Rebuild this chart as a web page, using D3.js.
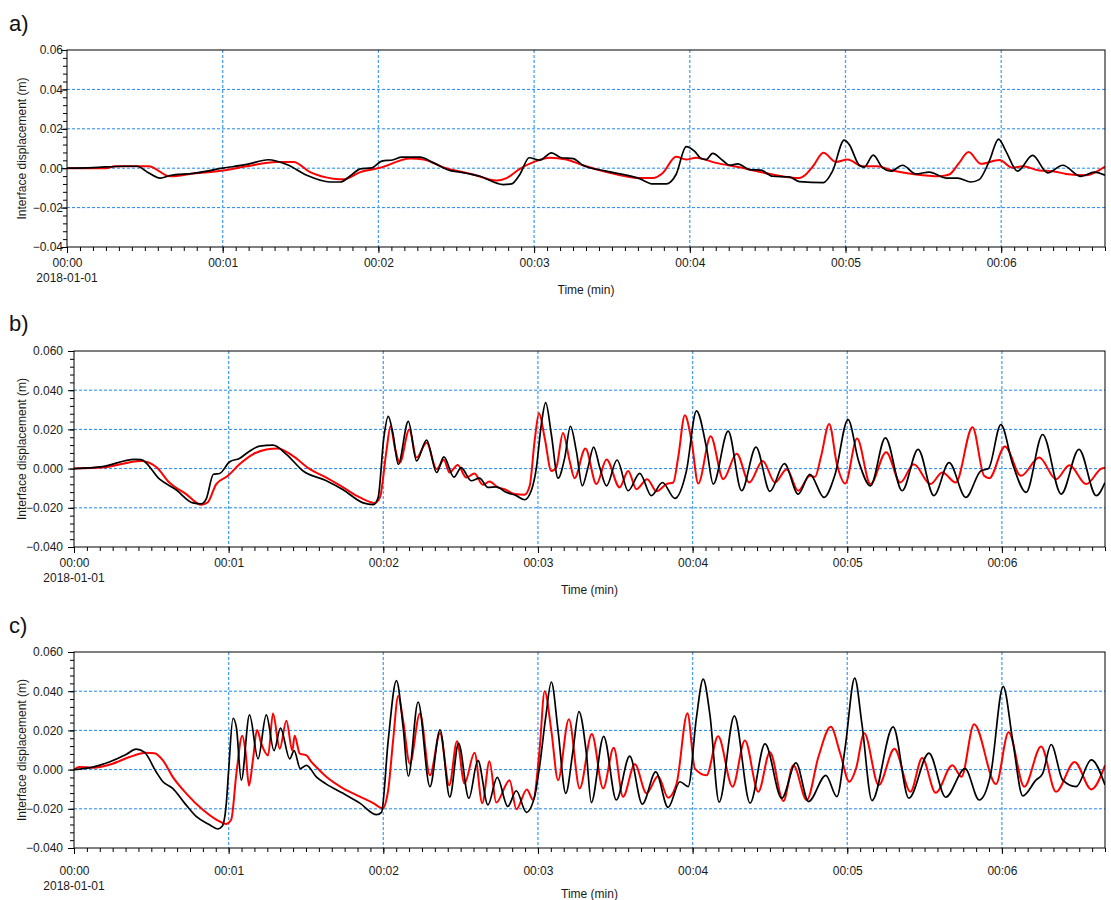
<!DOCTYPE html>
<html>
<head>
<meta charset="utf-8">
<script src="https://cdn.jsdelivr.net/npm/d3@7"></script>
<style>
  body { margin: 0; background: #fff; }
  svg text { font-family: "Liberation Sans", Arial, sans-serif; }
</style>
</head>
<body>
<svg id="chart" width="1111" height="900"></svg>
<script>
// time in seconds since 00:00, displacement in m
var aBlack = [[0,0],[10,0.0003],[22,0.001],[27,0.001],[31,-0.002],[35.9,-0.005],[39.7,-0.0037],[48.7,-0.0026],[60,0],[69.3,0.0019],[77.6,0.0043],[84.7,0.0019],[92.4,-0.0036],[101.4,-0.007],[105.3,-0.007],[110,-0.003],[113,-0.0003],[117.5,0.0002],[121.3,0.0036],[125.8,0.0043],[129,0.0056],[136,0.0056],[141.3,0.0027],[147.7,-0.0012],[151.5,-0.002],[159.1,-0.0041],[168.1,-0.0083],[171.3,-0.008],[174.5,-0.0032],[178.1,0.0053],[182.2,0.0041],[186.7,0.0078],[190.5,0.0053],[195,0.0049],[198.8,0.0015],[207.8,-0.0015],[220.6,-0.0053],[225.8,-0.008],[230.9,-0.008],[234.7,-0.0032],[238.6,0.011],[241.8,0.0087],[244.4,0.0049],[246.3,0.0044],[248.8,0.0075],[252.7,0.0039],[255.3,0.0015],[258.5,0.0022],[263,-0.0007],[267.4,-0.001],[271.9,-0.0041],[278.3,-0.0044],[282.2,-0.0068],[291.5,-0.0073],[295,-0.0015],[299.5,0.0143],[301.4,0.0121],[305.3,0.0015],[307.2,0.0005],[310.7,0.0066],[314.3,0.0002],[317.5,-0.0015],[322,0.0015],[327.1,-0.0029],[332.3,-0.002],[338.7,-0.005],[343.2,-0.005],[348.3,-0.007],[351.5,-0.0058],[355.4,0.0036],[359,0.0148],[361.8,0.0087],[366.3,-0.0015],[372.1,0.0065],[377.9,-0.0024],[383.7,0.0015],[390.7,-0.0041],[395.9,-0.002],[400,-0.0036]];
var aRed = [[0,0],[15,0],[18.5,0.001],[31.4,0.001],[39.7,-0.0041],[48.7,-0.0027],[60,-0.0012],[69.3,0.001],[80.8,0.0032],[87.3,0.0032],[93.7,-0.002],[102.7,-0.0053],[106.6,-0.0056],[113,-0.002],[120.7,0.0002],[132.3,0.0049],[137.4,0.0044],[145.1,0.0004],[156.5,-0.0032],[165.5,-0.0063],[169.4,-0.005],[174.5,-0.0003],[180,0.0032],[186,0.0053],[192.4,0.0044],[198.8,0.0015],[207.8,-0.0019],[220.6,-0.005],[225.8,-0.005],[229.6,-0.0024],[234.7,0.0058],[238.6,0.0044],[242.4,0.0053],[250.1,0.0027],[259.1,0.0005],[271.9,-0.0032],[282.2,-0.005],[284.7,-0.0032],[287.5,0.001],[291.5,0.0078],[296.3,0.0032],[300.8,0.0044],[306.6,0.001],[312.3,0.001],[318.1,-0.0012],[327.1,-0.0032],[336.1,-0.0041],[340,-0.0032],[343.8,0.0027],[347.4,0.0082],[352.2,0.0022],[359.3,0.0041],[364.4,0.0002],[368.3,0.001],[374.7,-0.0012],[379.8,-0.0015],[385,-0.0029],[392.7,-0.0036],[400,0.0008]];

var bBlack = [[0,0],[11.1,0.001],[23.4,0.0047],[26,0.0046],[33.2,-0.0054],[39.6,-0.0108],[46.1,-0.0175],[49.4,-0.018],[51.3,-0.0155],[54.1,-0.0029],[56.5,-0.0025],[60.4,0.0035],[64.2,0.0052],[68.1,0.0089],[72,0.0115],[77.2,0.012],[82.4,0.0073],[88.9,-0.0012],[97.9,-0.0062],[104.4,-0.0108],[112.2,-0.0175],[116.1,-0.0184],[118,-0.0147],[120.2,0.0157],[121.9,0.0266],[123.8,0.0174],[125.8,0.0022],[129.7,0.0241],[132.9,0.0039],[136.8,0.0145],[140.7,-0.002],[143.5,0.006],[147.4,-0.0044],[150.2,0.0005],[154.1,-0.0062],[157.3,-0.0049],[160.6,-0.0096],[163.8,-0.0093],[167.7,-0.0121],[171.6,-0.0138],[174.8,-0.0159],[177.4,-0.0113],[179.4,0.0005],[181.3,0.0224],[183,0.0337],[185.2,0.0174],[187.8,-0.0049],[190.4,0.0056],[192.6,0.0216],[194.9,0.0089],[197.2,-0.0088],[199.4,0.0005],[201.6,0.011],[204,0.0005],[206.6,-0.0088],[210.7,0.0044],[215,-0.0113],[219.5,-0.0024],[224,-0.0138],[228.3,-0.0071],[233.1,-0.0152],[237.6,-0.0012],[241.5,0.0295],[245.4,0.0106],[248,-0.0079],[253.8,0.0191],[259,-0.0113],[264.6,0.011],[270,-0.0116],[275.6,0.0025],[281,-0.013],[285.5,-0.0029],[291,-0.0147],[295.3,-0.0029],[300.3,0.025],[304.4,0.0039],[309,-0.0088],[314.8,0.0157],[321.3,-0.0113],[327.5,0.0098],[333.6,-0.0138],[339.5,0.003],[346,-0.0147],[351.8,-0.0012],[354.8,0],[359.6,0.0224],[364.2,0.0022],[369.4,-0.0121],[375.8,0.0174],[383,-0.013],[389.9,0.0098],[396.6,-0.0138],[400,-0.0071]];
var bRed = [[0,0],[11.1,0.0005],[26,0.0039],[31.9,0.0008],[37,-0.0071],[43.5,-0.013],[49.4,-0.0185],[51.9,-0.0172],[55.2,-0.0079],[59.7,-0.0037],[64.2,0.0022],[69.4,0.0073],[74.6,0.0098],[79.1,0.0103],[85,0.0064],[91.5,-0.0003],[97.9,-0.0046],[104.4,-0.0096],[110.9,-0.0147],[116.7,-0.0175],[118.7,-0.0147],[121.2,0.0089],[122.8,0.0216],[124.5,0.0106],[126.4,0.003],[130.1,0.0199],[132.9,0.0056],[136.8,0.0132],[140.7,-0.0003],[143.5,0.0045],[145.7,-0.002],[148.9,0.0019],[152.2,-0.0046],[155.4,-0.0025],[158.6,-0.0083],[161.2,-0.0066],[164.5,-0.0096],[167,-0.0105],[170.9,-0.013],[174.8,-0.0133],[176.8,-0.0088],[178.7,0.014],[180.4,0.0283],[182.6,0.0157],[185.2,-0.0012],[187.1,0.0005],[189.7,0.0182],[192.3,0.0039],[194.2,-0.0049],[198.4,0.0103],[202.7,-0.0079],[206.6,0.0047],[211.7,-0.0096],[215,-0.0012],[218.2,-0.0105],[222.4,-0.0054],[226,-0.0116],[229.9,-0.0079],[232.5,-0.0071],[234.4,0.0056],[237,0.0272],[239.6,0.014],[242.2,-0.0076],[247,0.0165],[251.9,-0.0054],[257.1,0.0076],[262,-0.0071],[267.2,0.0039],[272,-0.0071],[276.5,-0.0003],[281,-0.0113],[285.5,-0.0037],[287.5,-0.0042],[289.8,0.006],[293,0.0228],[296,0.0022],[299.2,-0.0076],[303.8,0.0153],[309,-0.0079],[315.1,0.0084],[320.6,-0.0071],[325.8,0.0022],[332.3,-0.0079],[336.9,-0.002],[342.1,-0.0071],[348.6,0.0211],[353.1,-0.0037],[355.1,-0.0049],[361.2,0.0113],[367.4,-0.0037],[374.5,0.0056],[381,-0.0054],[386.2,0.0017],[392.7,-0.0079],[398.6,0],[400,0.0005]];

var cBlack = [[0,0],[7.3,0.0013],[13.7,0.0039],[20.2,0.0077],[24.1,0.0104],[27.3,0.0089],[31.9,-0.0012],[34.5,-0.0062],[38.3,-0.0096],[42.9,-0.0171],[47.4,-0.0239],[52.6,-0.0281],[55.8,-0.0303],[57.5,-0.0289],[59.1,-0.0171],[60,-0.0003],[61.7,0.0262],[63,0.0215],[64.9,-0.0054],[68.1,0.0279],[71.4,0.0055],[74.6,0.0279],[77.6,0.0097],[80.1,0.0212],[83.7,0.0055],[85.4,0.0097],[87.8,0.0005],[90.2,0.0022],[94,-0.0037],[97.9,-0.0074],[104.4,-0.0121],[110.9,-0.0171],[117.4,-0.023],[119.3,-0.0218],[121.9,0.0148],[125.1,0.0454],[127.7,0.0215],[129.7,-0.0034],[133.5,0.0345],[138.1,-0.0087],[142,0.0203],[145.8,-0.014],[149.2,0.0134],[153.2,-0.0146],[156.7,0.0047],[160.6,-0.018],[164.2,-0.004],[168.3,-0.0188],[171.6,-0.0108],[175.5,-0.0218],[178.7,-0.0138],[180.6,0.0013],[183,0.0266],[185.2,0.0447],[187.8,0.0198],[190.8,-0.0121],[193.6,0.0097],[195.9,0.0296],[198.8,0.0081],[200.7,-0.0168],[205.5,0.017],[210.4,-0.0155],[215.6,0.0069],[220.5,-0.0176],[225.7,-0.0012],[230.5,-0.0193],[235.1,-0.0062],[238.3,-0.0087],[241.5,0.0266],[244.1,0.0462],[246.7,0.0282],[250.3,-0.0166],[256.2,0.0274],[262.3,-0.0171],[268.1,0.0131],[274.6,-0.0146],[280.1,0.0034],[285,-0.0163],[291.7,-0.0029],[296,-0.0138],[299.2,0.0114],[302.9,0.0467],[305.7,0.0232],[309.6,-0.0158],[317.8,0.0218],[323.9,-0.0146],[331.7,0.0084],[338.2,-0.0141],[345.7,0.0005],[351.2,-0.0155],[355.7,-0.002],[360.5,0.0425],[364.2,0.0148],[368.1,-0.0134],[373.2,-0.0054],[375.8,-0.002],[379.1,0.0128],[383.6,-0.0054],[388.8,-0.0087],[394.7,0.005],[400,-0.0079]];
var cRed = [[0,0],[2.1,0.0013],[7.3,0.001],[15,0.003],[21.5,0.0064],[28,0.0086],[31.2,0.0084],[34.5,0.0047],[38.3,-0.0037],[43.5,-0.0121],[50,-0.0205],[55.2,-0.0255],[59.1,-0.0277],[61,-0.0255],[63,-0.002],[65.3,0.0173],[66.5,0.0097],[67.9,-0.0082],[69.4,0.0047],[71,0.0202],[72.7,0.0131],[75.3,0.0072],[77.2,0.0286],[79.8,0.0106],[82.4,0.0249],[84.7,0.0097],[85.6,0.0173],[87.6,0.0081],[90.2,0.0072],[92.1,0.0039],[94,0.0013],[97.9,-0.0037],[104.4,-0.0096],[110.9,-0.0138],[116.1,-0.0171],[119.7,-0.0197],[121.9,-0.0104],[123.8,0.0148],[125.8,0.0375],[127.7,0.0249],[130.3,0.003],[134.2,0.0286],[138.1,-0.0029],[142,0.0186],[145.6,-0.008],[148.6,0.0145],[151.5,-0.0071],[155.4,0.0086],[158.4,-0.0171],[161.2,0.0042],[163.8,-0.0168],[169,-0.0054],[171.6,-0.0202],[175.7,-0.0101],[178.1,-0.0155],[180.6,0.0097],[182.6,0.04],[185.2,0.0198],[187.8,-0.0054],[192,0.0257],[196.2,-0.0096],[200.9,0.0182],[205.3,-0.0096],[209.4,0.0111],[213,-0.0138],[217.6,0.0027],[222.1,-0.0121],[226.6,-0.0034],[230.5,-0.0143],[233.8,-0.0071],[238,0.0287],[240.9,0.0005],[245.4,-0.0029],[249.9,0.017],[255.5,-0.0087],[260.3,0.0148],[265.5,-0.0113],[270,0.0089],[275.2,-0.016],[279.1,0.0022],[284.3,-0.0155],[288.8,0.0064],[293.6,0.0218],[297.3,0.0081],[300.8,-0.0062],[303.4,0.0005],[306.6,0.0185],[312.2,-0.0079],[318.3,0.0106],[324.5,-0.0113],[329.1,0.0059],[334.3,-0.0118],[340.8,0.0022],[344.3,-0.0037],[349.2,0.0232],[357.7,-0.0074],[362.6,0.019],[368.7,-0.0087],[375.2,0.0118],[381,-0.0113],[388.2,0.0039],[394.7,-0.0101],[400,0.0022]];

var xTicksMin = [0, 1, 2, 3, 4, 5, 6];
var yTicks = [-0.04, -0.02, 0, 0.02, 0.04, 0.06];
var yGrid = [-0.02, 0, 0.02, 0.04];
var panelLetters = ["a)", "b)", "c)"];

var panels = [
  {letter: panelLetters[0], black: aBlack, red: aRed, fmt: ".2f", top: 50, bottom: 247, left: 67, letterY: 31, labOff: 17, titleY: 294},
  {letter: panelLetters[1], black: bBlack, red: bRed, fmt: ".3f", top: 351, bottom: 547, left: 74, letterY: 331, labOff: 17, titleY: 594},
  {letter: panelLetters[2], black: cBlack, red: cRed, fmt: ".3f", top: 652, bottom: 848, left: 74, letterY: 633, labOff: 24, titleY: 898}
];

var svg = d3.select("#chart");
var right = 1105;
var labelEnd = 63;

panels.forEach(function(p, i) {
  var x = d3.scaleLinear().domain([0, 400]).range([p.left, right]);
  var y = d3.scaleLinear().domain([-0.04, 0.06]).range([p.bottom, p.top]);
  var g = svg.append("g");

  g.append("text").attr("x", 9).attr("y", p.letterY)
    .style("font-size", "22px").style("fill", "#111").text(p.letter);

  // grid
  g.selectAll(".hg").data(yGrid).enter().append("line")
    .attr("x1", p.left).attr("x2", right)
    .attr("y1", function(d) { return y(d); }).attr("y2", function(d) { return y(d); })
    .attr("stroke", "#1e88f0").attr("stroke-width", 1).attr("stroke-dasharray", "3,2");
  g.selectAll(".vg").data(xTicksMin.slice(1)).enter().append("line")
    .attr("x1", function(d) { return x(d * 60); }).attr("x2", function(d) { return x(d * 60); })
    .attr("y1", p.top).attr("y2", p.bottom)
    .attr("stroke", "#4aa3f5").attr("stroke-width", 1.3).attr("stroke-dasharray", "3,2");

  // series
  var clipId = "clip" + i;
  svg.append("clipPath").attr("id", clipId).append("rect")
    .attr("x", p.left).attr("y", p.top).attr("width", right - p.left).attr("height", p.bottom - p.top);
  var line = d3.line()
    .x(function(d) { return x(d[0]); })
    .y(function(d) { return y(d[1]); })
    .curve(d3.curveMonotoneX);
  g.append("path").datum(p.red).attr("clip-path", "url(#" + clipId + ")")
    .attr("d", line).attr("fill", "none").attr("stroke", "#ff0000").attr("stroke-width", 2);
  g.append("path").datum(p.black).attr("clip-path", "url(#" + clipId + ")")
    .attr("d", line).attr("fill", "none").attr("stroke", "#000").attr("stroke-width", 1.7);

  // frame
  g.append("rect").attr("x", p.left).attr("y", p.top)
    .attr("width", right - p.left).attr("height", p.bottom - p.top)
    .attr("fill", "none").attr("stroke", "#000").attr("stroke-width", 1);

  // y axis
  var yAxis = d3.axisLeft(y).tickValues(yTicks).tickSize(6)
    .tickPadding(p.left - labelEnd - 6).tickFormat(d3.format(p.fmt));
  var ya = g.append("g").attr("transform", "translate(" + p.left + ",0)").call(yAxis);
  ya.select(".domain").remove();
  var yMinor = d3.range(-0.04, 0.0601, 0.004);
  g.append("g").attr("transform", "translate(" + p.left + ",0)")
    .call(d3.axisLeft(y).tickValues(yMinor).tickSize(4).tickFormat(""))
    .select(".domain").remove();

  // x axis
  var xAxis = d3.axisBottom(x).tickValues(xTicksMin.map(function(m) { return m * 60; }))
    .tickSize(6).tickPadding(p.labOff - 12)
    .tickFormat(function(d) { return "00:" + d3.format("02d")(d / 60); });
  var xa = g.append("g").attr("transform", "translate(0," + p.bottom + ")").call(xAxis);
  xa.select(".domain").remove();
  g.append("g").attr("transform", "translate(0," + p.bottom + ")")
    .call(d3.axisBottom(x).tickValues(d3.range(0, 401, 5)).tickSize(4).tickFormat(""))
    .select(".domain").remove();

  g.selectAll(".tick text").style("font-size", "12px").style("fill", "#1a1a1a");
  g.selectAll(".tick line").attr("stroke", "#000");

  g.append("text").attr("x", p.left).attr("y", p.bottom + p.labOff + 18)
    .attr("text-anchor", "middle").style("font-size", "12px").style("fill", "#1a1a1a")
    .text("2018-01-01");
  g.append("text").attr("x", (p.left + right) / 2).attr("y", p.titleY)
    .attr("text-anchor", "middle").style("font-size", "12px").style("fill", "#1a1a1a")
    .text("Time (min)");
  g.append("text")
    .attr("transform", "translate(26," + ((p.top + p.bottom) / 2) + ") rotate(-90)")
    .attr("text-anchor", "middle").style("font-size", "12px").style("fill", "#1a1a1a")
    .text("Interface displacement (m)");
});
</script>
</body>
</html>
